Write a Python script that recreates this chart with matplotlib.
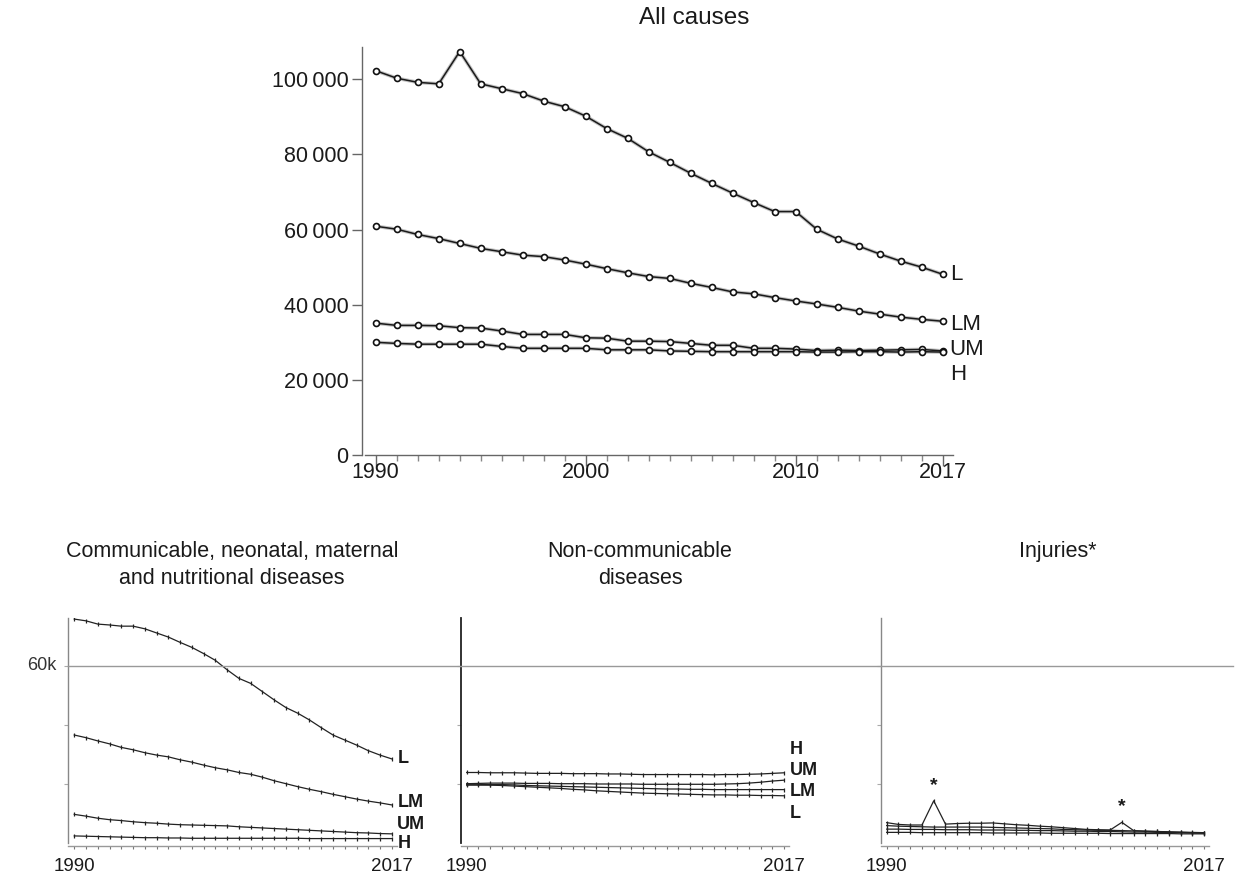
import matplotlib
matplotlib.use('Agg')
import matplotlib.pyplot as plt
from matplotlib.lines import Line2D
from matplotlib.transforms import blended_transform_factory
from matplotlib.ticker import FixedLocator, FuncFormatter, MultipleLocator

plt.rcParams['font.family'] = ['Liberation Sans', 'DejaVu Sans']

# ---------------- data ----------------
years = list(range(1990, 2018))
groups = ['L', 'LM', 'UM', 'H']

all_L = [102300, 100300, 99200, 98800, 107400, 98800, 97500, 96200, 94200, 92700,
         90200, 86900, 84300, 80700, 77900, 75000, 72300, 69700, 67200, 64800,
         64800, 60100, 57500, 55600, 53500, 51600, 50000, 48100]
all_LM = [60900, 60100, 58700, 57600, 56300, 55000, 54100, 53200, 52800, 51900,
          50800, 49600, 48500, 47500, 47000, 45700, 44600, 43400, 42900, 41900,
          41000, 40200, 39300, 38300, 37500, 36700, 36100, 35600]
all_UM = [35100, 34500, 34500, 34400, 33900, 33800, 33000, 32100, 32100, 32100,
          31200, 31100, 30300, 30300, 30200, 29700, 29200, 29200, 28400, 28400,
          28200, 27800, 27900, 27800, 27900, 28000, 28100, 27700]
all_H = [30000, 29700, 29500, 29500, 29500, 29500, 28900, 28400, 28400, 28400,
         28400, 28000, 28000, 28000, 27700, 27600, 27500, 27500, 27500, 27500,
         27500, 27400, 27400, 27500, 27500, 27400, 27500, 27400]

cmnn_L = [75900, 75300, 74200, 73900, 73500, 73500, 72600, 71200, 69800, 68000,
          66300, 64200, 61900, 58700, 55800, 54100, 51300, 48500, 45900, 44000,
          41700, 39100, 36600, 34900, 33200, 31300, 29800, 28500]
cmnn_LM = [36600, 35700, 34600, 33600, 32400, 31600, 30600, 29800, 29200, 28200,
           27400, 26400, 25500, 24800, 23900, 23300, 22300, 21100, 20100, 19100,
           18200, 17400, 16500, 15700, 14900, 14200, 13600, 12900]
cmnn_UM = [9700, 9100, 8400, 7900, 7600, 7200, 6900, 6700, 6400, 6200,
           6100, 6000, 5900, 5800, 5500, 5300, 5100, 4900, 4700, 4500,
           4300, 4100, 3900, 3700, 3500, 3400, 3200, 3100]
cmnn_H = [2400, 2300, 2200, 2100, 2000, 1900, 1800, 1800, 1700, 1700,
          1600, 1600, 1600, 1600, 1600, 1600, 1600, 1600, 1600, 1600,
          1500, 1500, 1500, 1500, 1500, 1500, 1500, 1500]

ncd_L = [19600, 19600, 19600, 19500, 19300, 19100, 18900, 18700, 18500, 18200,
         18000, 17700, 17500, 17300, 17100, 16900, 16800, 16700, 16600, 16500,
         16400, 16300, 16300, 16200, 16200, 16100, 16100, 16000]
ncd_LM = [19900, 19900, 19800, 19800, 19700, 19500, 19400, 19300, 19200, 19100,
          19000, 18900, 18800, 18700, 18600, 18500, 18400, 18300, 18300, 18200,
          18200, 18100, 18100, 18100, 18100, 18100, 18100, 18100]
ncd_UM = [20100, 20200, 20300, 20300, 20300, 20200, 20200, 20200, 20100, 20100,
          20100, 20000, 20000, 20000, 20000, 19900, 19900, 19900, 19900, 19900,
          19900, 19900, 20000, 20100, 20300, 20600, 21000, 21300]
ncd_H = [23900, 23900, 23800, 23800, 23800, 23700, 23600, 23600, 23600, 23500,
         23500, 23500, 23400, 23400, 23300, 23200, 23200, 23200, 23200, 23200,
         23200, 23100, 23200, 23200, 23300, 23400, 23600, 23800]

inj_L = [6900, 6300, 6100, 6100, 14300, 6400, 6600, 6700, 6700, 6800,
         6500, 6200, 6000, 5700, 5500, 5200, 4900, 4600, 4500, 4400,
         7000, 4200, 4000, 3900, 3700, 3600, 3500, 3400]
inj_LM = [5900, 5700, 5600, 5500, 5400, 5400, 5400, 5400, 5400, 5300,
          5200, 5100, 5000, 4900, 4800, 4600, 4500, 4400, 4300, 4300,
          4200, 4100, 4000, 3900, 3800, 3700, 3600, 3500]
inj_UM = [4700, 4700, 4600, 4600, 4600, 4500, 4500, 4500, 4400, 4400,
          4400, 4300, 4300, 4200, 4200, 4100, 4000, 4000, 3900, 3900,
          3800, 3700, 3700, 3600, 3500, 3500, 3400, 3400]
inj_H = [3600, 3600, 3600, 3500, 3500, 3500, 3500, 3500, 3500, 3400,
         3400, 3400, 3400, 3400, 3300, 3300, 3300, 3300, 3300, 3200,
         3200, 3200, 3200, 3200, 3200, 3100, 3100, 3100]
inj_flag_years = [1994, 2010]

top_title = 'All causes'
panel_titles = ['Communicable, neonatal, maternal\nand nutritional diseases',
                'Non-communicable\ndiseases',
                'Injuries*']
y_ticks_top = [0, 20000, 40000, 60000, 80000, 100000]
x_ticks_top = [1990, 2000, 2010, 2017]
x_ticks_bottom = [1990, 2017]
ref_line_value = 60000
ref_line_label = '60k'

# ---------------- layout helpers ----------------
W, H = 1246, 877
fig = plt.figure(figsize=(W / 100, H / 100), dpi=100)


def rect(l, t, r, b):
    return [l / W, (H - b) / H, (r - l) / W, (b - t) / H]


SPINE = '#666666'
TXT = '#1a1a1a'

# ---------------- top panel ----------------
ax = fig.add_axes(rect(365.2, 47.4, 953.2, 455))
ax.set_xlim(1989.5, 2017.5)
ax.set_ylim(0, 108500)
for s in ['top', 'right']:
    ax.spines[s].set_visible(False)
for s in ['left', 'bottom']:
    ax.spines[s].set_color(SPINE)
    ax.spines[s].set_linewidth(1.0)
ax.spines['left'].set_position(('outward', 2))

top_series = [all_L, all_LM, all_UM, all_H]
for vals in top_series:
    ax.plot(years, vals, color='#c4c4c4', lw=2.6, zorder=2, solid_capstyle='round')
    ax.plot(years, vals, color='#1a1a1a', lw=1.1, marker='o', ms=4.3,
            mfc='white', mec='#111111', mew=1.2, zorder=3)

ax.yaxis.set_major_locator(FixedLocator(y_ticks_top))
ax.yaxis.set_major_formatter(FuncFormatter(
    lambda v, p: '0' if v == 0 else f'{int(v):,}'.replace(',', '\u2009')))
ax.xaxis.set_major_locator(FixedLocator(x_ticks_top))
ax.xaxis.set_minor_locator(MultipleLocator(1))
ax.tick_params(axis='y', length=7, width=1, color=SPINE, labelsize=15.5,
               labelcolor=TXT, pad=3)
ax.tick_params(axis='x', which='major', length=8, width=1, color=SPINE,
               labelsize=15.5, labelcolor=TXT, pad=-3)
ax.tick_params(axis='x', which='minor', length=4.5, width=1, color='#888888')

top_offsets = [0, -2, 1, -16]   # label offsets in points
for g, vals, off in zip(groups, top_series, top_offsets):
    ax.annotate(g, (years[-1], vals[-1]), xytext=(5, off), textcoords='offset points',
                ha='left', va='center', fontsize=16, color=TXT, annotation_clip=False)

fig.text(694 / W, 1 - 18 / H, top_title, ha='center', va='center', fontsize=17.5, color=TXT)

# ---------------- bottom panels ----------------
panel_left = [68.4, 460.8, 880.8]
panel_width = 328.1
panel_top, panel_bottom = 617.9, 843
panel_data = [
    [cmnn_L, cmnn_LM, cmnn_UM, cmnn_H],
    [ncd_L, ncd_LM, ncd_UM, ncd_H],
    [inj_L, inj_LM, inj_UM, inj_H],
]
label_offsets = [
    [0, 1.5, 6.5, -3.5],
    [-13, -1.5, 7, 17],
    None,
]
title_centers = [232, 640, 1058]
left_spine_colors = ['#888888', '#222222', '#888888']

axes = []
for i in range(3):
    a = fig.add_axes(rect(panel_left[i], panel_top, panel_left[i] + panel_width, panel_bottom))
    axes.append(a)
    a.set_xlim(1989.5, 2017.4)
    a.set_ylim(0, 76300)
    for s in ['top', 'right']:
        a.spines[s].set_visible(False)
    a.spines['left'].set_color(left_spine_colors[i])
    a.spines['left'].set_linewidth(1.3 if i == 1 else 1.0)
    a.spines['bottom'].set_color('#999999')
    a.spines['bottom'].set_linewidth(1.0)
    a.spines['bottom'].set_position(('outward', 2))
    a.yaxis.set_major_locator(FixedLocator([20000, 40000, 60000]))
    a.yaxis.set_major_formatter(FuncFormatter(lambda v, p: ''))
    a.tick_params(axis='y', length=3, width=0.8, color='#aaaaaa')
    a.xaxis.set_major_locator(FixedLocator(x_ticks_bottom))
    a.xaxis.set_minor_locator(MultipleLocator(1))
    a.tick_params(axis='x', which='major', length=2, width=0.8, color='#777777',
                  labelsize=13.5, labelcolor=TXT, pad=7)
    a.tick_params(axis='x', which='minor', length=2, width=0.8, color='#777777')

    for vals in panel_data[i]:
        a.plot(years, vals, color='#222222', lw=0.9, marker='|', ms=2.6, mew=0.9, zorder=3)

    if label_offsets[i] is not None:
        for g, vals, off in zip(groups, panel_data[i], label_offsets[i]):
            a.annotate(g, (years[-1], vals[-1]), xytext=(4, off), textcoords='offset points',
                       ha='left', va='center', fontsize=13, fontweight='bold',
                       color=TXT, annotation_clip=False)

    fig.text(title_centers[i] / W, 1 - 541 / H, panel_titles[i], ha='center', va='top',
             fontsize=15.5, color=TXT, linespacing=1.35)

# asterisks on injury spikes
for yr in inj_flag_years:
    v = inj_L[years.index(yr)]
    axes[2].annotate('*', (yr, v), xytext=(0, 5), textcoords='offset points',
                     ha='center', va='bottom', fontsize=14, fontweight='bold', color=TXT)

# reference line across the bottom panels
tr = blended_transform_factory(fig.transFigure, axes[0].transData)
fig.add_artist(Line2D([68 / W, 1233 / W], [ref_line_value, ref_line_value],
                      transform=tr, color='#999999', lw=1.0))
fig.text(57 / W, ref_line_value, ref_line_label, transform=tr, ha='right', va='center',
         fontsize=13, color='#333333')

fig.savefig('out.png', dpi=100)
